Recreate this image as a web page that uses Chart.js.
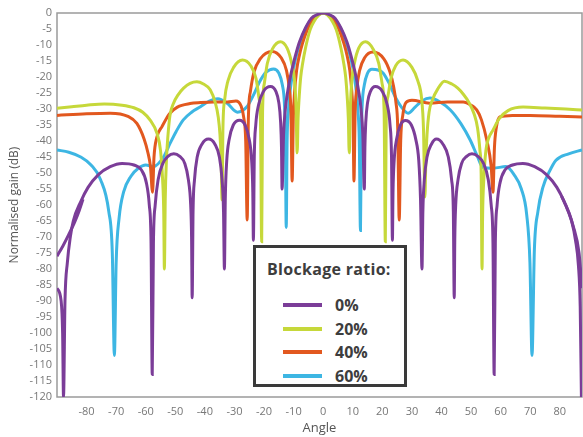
<!DOCTYPE html>
<html>
<head>
<meta charset="utf-8">
<script src="https://cdn.jsdelivr.net/npm/chart.js@4"></script>
<style>
  body { margin: 0; background: #fff; }
  #wrap { position: relative; width: 583px; height: 437px; }
  #legend {
    position: absolute; left: 253px; top: 245px; width: 148px; height: 136px;
    border: 3px solid #3a3a3a; background: #fff;
    font-family: 'Open Sans', sans-serif; font-weight: bold; color: #3d3d3d;
  }
  #legend .ttl { position: absolute; left: 11px; top: 10px; font-size: 16px; letter-spacing: 0.3px; }
  #legend .row { position: absolute; left: 27px; height: 20px; font-size: 16px; line-height: 20px; }
  #legend .sw { display: inline-block; width: 39px; height: 4px; vertical-align: middle; margin-right: 13px; margin-top: -3px; }
</style>
</head>
<body>
<div id="wrap">
  <canvas id="pattern" width="583" height="437"></canvas>
  <div id="legend"><div class="ttl">Blockage ratio:</div></div>
</div>
<script>
// ratio labels + colours
const blockage = ['0%', '20%', '40%', '60%']
const colors = ['#7b3d98', '#c6d83a', '#e2581f', '#3db6e3']

const xTicks = [-80, -70, -60, -50, -40, -30, -20, -10, 0, 10, 20, 30, 40, 50, 60, 70, 80]
const yTicks = [0, -5, -10, -15, -20, -25, -30, -35, -40, -45, -50, -55, -60, -65, -70, -75, -80, -85, -90, -95, -100, -105, -110, -115, -120]

// 0% blockage
const angle0 = [-90, -88.6, -88.1, -87.8, -87.3, -86.5, -85.5, -84.5, -82, -79.5, -76, -72, -68, -64, -61.5, -59.8, -58.8, -58.2, -57.8,
  -57.4, -56.8, -55.8, -54.2, -52.5, -50.5, -48.5, -46.8, -45.6, -44.8, -44.5, -44.3,
  -44.0, -43.5, -42.6, -41, -38.8, -36.6, -35.1, -34.2, -33.7, -33.4,
  -33.1, -32.6, -31.8, -30.4, -28.3, -26.4, -25, -24.2, -23.8, -23.6,
  -23.3, -22.8, -21.8, -20.2, -17.8, -16, -15, -14.4, -14.1, -13.9,
  -13.4, -12.8, -12, -11, -10, -9, -8, -6, -4, -2, 0,
  2, 4, 6, 8, 9, 10, 11, 12, 12.8, 13.4, 13.9,
  14.1, 14.4, 15, 16, 17.6, 20, 21.6, 22.6, 23.1, 23.4,
  23.6, 24, 24.8, 26.1, 27.8, 29.8, 31.3, 32.3, 32.9, 33.4,
  33.7, 34.2, 35.1, 36.6, 38.3, 40.5, 42.3, 43.4, 44, 44.3,
  44.5, 44.8, 45.6, 46.8, 48.5, 50.3, 52.3, 54.2, 55.8, 56.8, 57.4, 57.8,
  58.2, 58.8, 59.8, 61.5, 64, 67.5, 71.5, 75.5, 79, 81.5, 84, 85.3, 86.3, 86.9, 87.3]
const gain0 = [-86, -90, -100, -120, -90, -78, -70, -65, -59, -54.5, -50.5, -48, -47, -47.5, -49, -53, -60, -72, -113,
  -72, -60, -52, -47, -44.8, -44, -44.8, -47, -52, -60, -70, -89,
  -62, -52, -45, -41, -39.4, -41, -45, -52, -62, -80,
  -58, -46, -39.5, -35, -33.5, -35, -39.5, -46, -56, -71,
  -45, -35, -28.5, -24.5, -23, -24.5, -28, -34, -42, -55,
  -38, -30, -24.5, -19.5, -15.5, -12, -9, -4.7, -1.6, -0.5, 0,
  -0.5, -1.6, -4.7, -9, -12, -15.5, -19.5, -24.5, -30, -38, -55,
  -42, -34, -28, -24.5, -23, -24.5, -28.5, -35, -45, -71,
  -56, -46, -39.5, -35, -33.6, -35, -39.5, -46, -58, -80,
  -62, -52, -45, -41, -39.4, -41, -45, -52, -62, -89,
  -70, -60, -52, -47, -44.8, -44, -44.8, -47, -52, -60, -72, -113,
  -72, -60, -53, -49, -47.5, -47, -48, -50.5, -54.5, -59, -65, -71, -79, -92, -120]
// second trace of the 0% curve near the edges
const angle0b = [-90, -88, -86, -84, -82.5, -81.2, 0, 80.6, 82.5, 84.5, 86.5, 87.5]
const gain0b = [-76, -72.8, -69.2, -65.3, -61.8, -58.2, null, -57.2, -61.2, -66.5, -75, -86]

// 20% blockage
const angle20 = [-90, -85, -80, -74, -68, -64, -61, -58.5, -56.2, -55, -54.3, -53.9, -53.7,
  -53.4, -53, -52.5, -51.8, -50.6, -49, -47.2, -45, -42.7, -40.5, -38.2, -36.5, -35.5, -34.9, -34.5, -34.2,
  -33.9, -33.3, -32.2, -30.3, -27.3, -24.5, -22.7, -21.8, -21.2, -20.8,
  -20.5, -19.9, -18.9, -17.2, -14.5, -12.2, -10.7, -9.7, -9.2, -8.8,
  -8.5, -8.1, -7.6, -7, -6, -4.4, -3, -1.5, 0,
  1.5, 3, 4.4, 6, 7, 7.6, 8.1, 8.5, 8.8,
  9.2, 9.7, 10.6, 12, 14.3, 16.9, 18.8, 19.9, 20.6, 21,
  21.3, 21.9, 22.9, 24.5, 27, 30, 32, 33.3, 33.9, 34.4,
  34.7, 35.1, 35.8, 37, 38.7, 41, 43.5, 45.5, 47.3, 49.3, 51, 52.2, 53, 53.4, 53.7,
  53.9, 54.3, 55, 56, 57.4, 59.5, 62.5, 67.6, 75, 82, 87.5]
const gain20 = [-29.8, -29.3, -28.8, -28.4, -28.8, -29.6, -31, -33.5, -37.6, -43, -52, -63, -80,
  -58, -46, -38.5, -32, -28.2, -25.5, -23.5, -22, -21.5, -22.2, -24, -28, -32.4, -38, -46, -58.4,
  -36, -27, -21.2, -17, -14.7, -16.5, -20.5, -26, -34, -71.5,
  -31, -22, -15.8, -11.3, -9, -11, -15.5, -21, -29, -43.7,
  -33, -26, -20, -16, -11, -5.2, -2.5, -0.7, 0,
  -0.7, -2.5, -5.2, -11, -16, -20, -26, -33, -43.7,
  -29, -21, -15.5, -11, -9, -11.3, -15.8, -22, -31, -71.5,
  -34, -26, -20.5, -16.5, -14.7, -17, -21.2, -27, -36, -57.5,
  -46, -38, -31, -27, -23.8, -21.3, -22.2, -23.5, -25.3, -28, -31.5, -36, -43, -50, -80,
  -63, -52, -43, -39, -36.6, -33, -30.5, -29.4, -29.7, -30, -30.3]

// 40% blockage
const angle40 = [-90, -80, -72, -66, -63, -60.5, -59.3, -58.4, -57.7,
  -57.2, -56.3, -54.5, -52, -49.3, -45, -41.5, -37, -32.4, -29.5, -27.8, -26.8, -26.2, -25.7,
  -25.3, -24.6, -23.4, -21.3, -17.3, -14.2, -12.4, -11.4, -10.9, -10.5,
  -10.1, -9.7, -9, -8, -7, -5.5, -4, -2, 0,
  2, 4, 5.5, 7, 8, 9, 9.7, 10.1, 10.4,
  10.8, 11.3, 12.3, 14, 16.8, 20.5, 22.6, 23.8, 24.6, 25.2, 25.7,
  26.2, 26.9, 28, 30, 36, 42, 47.3, 50, 51.9, 53.5, 55.3, 56.8, 57.4,
  57.9, 58.5, 59.7, 64, 70, 80, 87.5]
const gain40 = [-32, -31.5, -31.3, -32.3, -34.5, -39.5, -43.5, -48, -56,
  -45, -39, -35.5, -31.5, -29.4, -28.3, -28, -27.8, -27.8, -27.5, -29, -33, -40, -64.7,
  -33, -24.5, -18.5, -14.3, -12, -14, -18, -24, -31, -52.5,
  -33, -25, -18, -13, -9.5, -5.5, -2.8, -0.8, 0,
  -0.8, -2.8, -5.5, -9.5, -13, -18, -25, -33, -52.5,
  -31, -24, -18, -14, -12.2, -14.3, -18.5, -23, -28, -36, -64.7,
  -40, -32, -28, -27.3, -28.2, -27.8, -27.8, -28.8, -30.3, -33.4, -39.7, -48, -56,
  -42, -36, -32.5, -32, -32, -32.3, -32.5]

// 60% blockage
const angle60 = [-90, -86, -82, -78.5, -75.3, -72.5, -71.3, -70.6,
  -70, -69, -67.5, -65, -62.5, -60, -57.4, -54, -51.7, -49.7, -47.3, -44.5, -41.5, -38.5, -35.6, -32.5, -29, -25.8,
  -23.5, -21.5, -19.3, -16.8, -15, -13.8, -13.1, -12.8, -12.5,
  -12.2, -11.8, -11, -10, -9, -7.5, -6, -4, -2, 0,
  2, 4, 6, 7.5, 9, 10, 11, 11.8, 12.2, 12.6,
  12.9, 13.2, 13.9, 14.9, 16.5, 18.5, 20.3, 22.3, 24.5, 26.5, 28.7, 31, 33.5, 36.1, 39.5, 43, 46.5, 49.7, 52, 54,
  57.5, 61.8, 64.5, 67, 68.8, 69.9, 70.6,
  71.4, 72.6, 74.3, 76.5, 78.7, 83, 87.5]
const gain60 = [-42.8, -43.5, -45, -47.5, -52, -62, -75, -107,
  -78, -64, -56, -51, -48.5, -47.5, -48, -45, -40.6, -37, -33.4, -31, -29.3, -27.5, -26.8, -28.2, -31, -29.3,
  -25.5, -21.5, -18.5, -17.5, -18.8, -22.5, -28.5, -38, -67,
  -40, -31, -23, -17, -13, -8.5, -5, -2, -0.6, 0,
  -0.6, -2, -5, -8.5, -13, -17, -23, -31, -40, -68,
  -38, -28.5, -22.5, -19, -17.6, -17.8, -18.8, -22, -26.5, -29.5, -31.3, -29.5, -27.4, -26.6, -27.8, -30.3, -34.5, -39.7, -44.5, -48.3,
  -48.5, -48, -50.5, -55, -63, -78, -107,
  -74, -62, -54.4, -49.5, -46, -44, -42.8]

const toPoints = (xs, ys) => xs.map((x, i) => ({ x: x, y: ys[i] }))

const line = (data, color, order) => ({
  data: data,
  borderColor: color,
  borderWidth: 3,
  pointRadius: 0,
  fill: false,
  cubicInterpolationMode: 'monotone',
  spanGaps: false,
  order: order,
})

// plot frame (axes + top/right border)
const frame = {
  id: 'frame',
  beforeDatasetsDraw(chart) {
    const { ctx, chartArea } = chart
    ctx.save()
    ctx.strokeStyle = '#9a9a9a'
    ctx.lineWidth = 1.5
    ctx.strokeRect(chartArea.left, chartArea.top, chartArea.right - chartArea.left, chartArea.bottom - chartArea.top)
    ctx.restore()
  },
}

new Chart('pattern', {
  type: 'line',
  data: {
    datasets: [
      line(toPoints(angle0, gain0), colors[0], 1),
      line(toPoints(angle0b, gain0b), colors[0], 1),
      line(toPoints(angle20, gain20), colors[1], 2),
      line(toPoints(angle40, gain40), colors[2], 3),
      line(toPoints(angle60, gain60), colors[3], 4),
    ],
  },
  options: {
    responsive: false,
    animation: false,
    devicePixelRatio: 1,
    layout: { padding: { top: 13, right: 1, left: 0, bottom: 0 } },
    plugins: { legend: { display: false }, tooltip: { enabled: false } },
    scales: {
      x: {
        type: 'linear',
        min: -90,
        max: 87.5,
        grid: { display: false, drawTicks: false },
        border: { display: false },
        afterBuildTicks: (s) => { s.ticks = xTicks.map((v) => ({ value: v })) },
        afterFit: (s) => { s.height = 40 },
        ticks: { color: '#777', font: { family: 'Open Sans', size: 11 }, padding: 8, maxRotation: 0 },
        title: { display: true, text: 'Angle', color: '#555', font: { family: 'Open Sans', size: 13 }, padding: { top: 0, bottom: 1 } },
      },
      y: {
        min: -120,
        max: 0,
        grid: { display: false, drawTicks: false },
        border: { display: false },
        afterBuildTicks: (s) => { s.ticks = yTicks.map((v) => ({ value: v })) },
        afterFit: (s) => { s.width = 57 },
        ticks: { color: '#777', font: { family: 'Open Sans', size: 11 }, padding: 5, autoSkip: false },
        title: { display: true, text: 'Normalised gain (dB)', color: '#555', font: { family: 'Open Sans', size: 12 }, padding: { top: 7, bottom: 0 } },
      },
    },
  },
  plugins: [frame],
})

// legend box
const legend = document.getElementById('legend')
blockage.forEach((label, i) => {
  const row = document.createElement('div')
  row.className = 'row'
  row.style.top = (47 + i * 23.5) + 'px'
  row.innerHTML = `<span class="sw" style="background:${colors[i]}"></span>${label}`
  legend.appendChild(row)
})
</script>
</body>
</html>
